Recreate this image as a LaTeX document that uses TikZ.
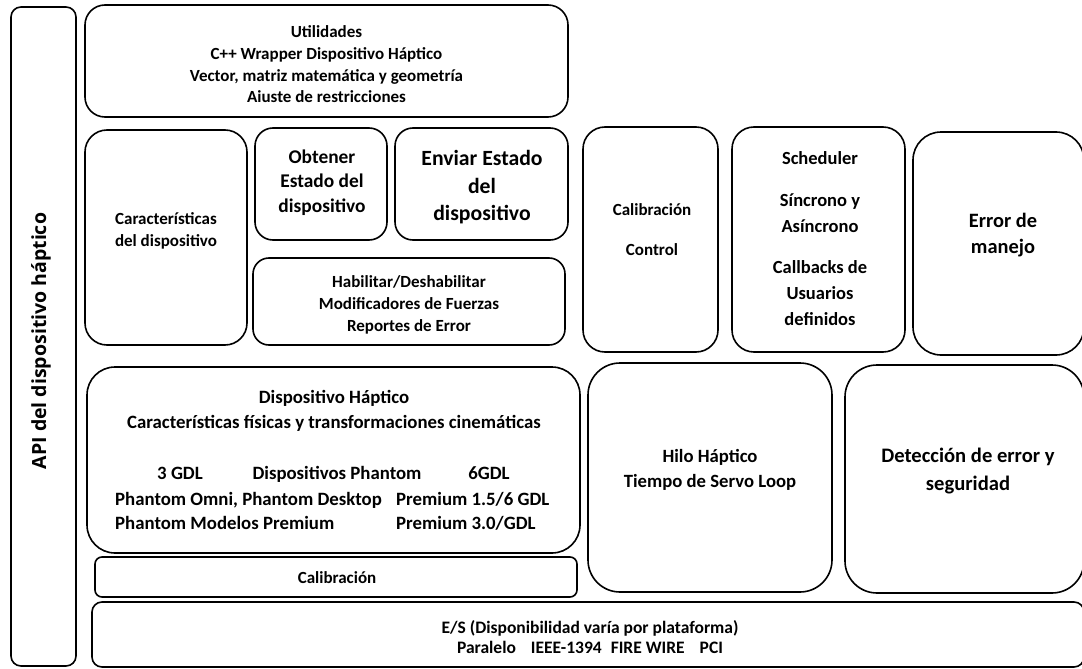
\documentclass[tikz,border=0pt]{standalone}
\usepackage{fontspec}
\setmainfont{Carlito}
\newfontfamily\apifont{Open Sans}
\begin{document}
\begin{tikzpicture}[x=1pt,y=-1pt,
  blk/.style={draw=black, line width=1.6pt, rounded corners=#1, inner sep=0pt, fill=white},
  txt/.style 2 args={align=center, inner sep=0pt, font=\bfseries\fontsize{#1}{#2}\selectfont},
]
\fill[white] (0,0) rectangle (1082,669);
\useasboundingbox (0,0) rectangle (1082,669);

% frames of the layers
\node[blk=10pt, minimum width=65pt, minimum height=659pt] (api) at (43.5,336.5) {};
\node[blk=20pt, minimum width=483pt, minimum height=112pt] (util) at (326.5,61) {};
\node[blk=22pt, minimum width=162pt, minimum height=215pt] (car) at (166,237.5) {};
\node[blk=18pt, minimum width=132pt, minimum height=112pt] (obt) at (321,184) {};
\node[blk=18pt, minimum width=173pt, minimum height=112pt] (env) at (481.5,184) {};
\node[blk=16pt, minimum width=312pt, minimum height=87pt] (hab) at (409,301.5) {};
\node[blk=22pt, minimum width=135pt, minimum height=225pt] (calc) at (650.5,239.5) {};
\node[blk=22pt, minimum width=173pt, minimum height=225pt] (sch) at (818.5,239.5) {};
\node[blk=28pt, minimum width=171pt, minimum height=223pt] (err) at (998.5,243.5) {};
\node[blk=28pt, minimum width=493pt, minimum height=186pt] (disp) at (333.5,460) {};
\node[blk=7pt, minimum width=482pt, minimum height=40pt] (cal) at (336,577) {};
\node[blk=32pt, minimum width=244pt, minimum height=229pt] (hilo) at (710,477.5) {};
\node[blk=32pt, minimum width=239pt, minimum height=228pt] (det) at (964.5,479) {};
\node[blk=10pt, minimum width=992pt, minimum height=65pt] (es) at (588,634.5) {};

% labels
\node[rotate=90, inner sep=0pt, font=\apifont\bfseries\fontsize{19.5}{19.5}\selectfont] (apit) at (41,341) {API del dispositivo háptico};

\node[txt={17}{21.7}] (utilt) at (326.5,64.5) {Utilidades\\C++ Wrapper Dispositivo Háptico\\Vector, matriz matemática y geometría\\Aiuste de restricciones};

\node[txt={17}{22}] (cart) at (166,231) {Características\\del dispositivo};

\node[txt={19.4}{24.5}] (obtt) at (322,182.5) {Obtener\\Estado del\\dispositivo};

\node[txt={21.7}{27.5}] (envt) at (482,187.5) {Enviar Estado\\del\\dispositivo};

\node[txt={17}{22}] (habt) at (409,305) {Habilitar/Deshabilitar\\Modificadores de Fuerzas\\Reportes de Error};

\node[txt={17}{40}] (calct) at (652,230) {Calibración\\Control};

\node[txt={18.5}{26}] (scht) at (820,239) {Scheduler\\[16pt]Síncrono y\\Asíncrono\\[15pt]Callbacks de\\Usuarios\\definidos};

\node[txt={20.4}{26}] (errt) at (1003,235) {Error de\\manejo};

\node[txt={18.8}{25}] (dispt) at (334,410.5) {Dispositivo Háptico\\Características físicas y transformaciones cinemáticas};

\node[txt={18.8}{18.8}, anchor=base] (g3) at (180,479) {3 GDL};
\node[txt={18.8}{18.8}, anchor=base] (gph) at (337,479) {Dispositivos Phantom};
\node[txt={18.8}{18.8}, anchor=base] (g6) at (489,479) {6GDL};
\node[txt={18.8}{18.8}, anchor=base west] (pom) at (115,505) {Phantom Omni, Phantom Desktop};
\node[txt={18.8}{18.8}, anchor=base west] (p15) at (396,505) {Premium 1.5/6 GDL};
\node[txt={18.8}{18.8}, anchor=base west] (pmp) at (115,529) {Phantom Modelos Premium};
\node[txt={18.8}{18.8}, anchor=base west] (p30) at (396,529) {Premium 3.0/GDL};

\node[txt={17}{17}] (calt) at (337,578) {Calibración};

\node[txt={18.7}{25}] (hilot) at (710,469.5) {Hilo Háptico\\Tiempo de Servo Loop};

\node[txt={20.6}{28}] (dett) at (968,471) {Detección de error y\\seguridad};

\node[txt={17.5}{20}] (est) at (590,637) {E/S (Disponibilidad varía por plataforma)\\Paralelo\hspace{15pt}IEEE-1394\hspace{9pt}FIRE WIRE\hspace{15pt}PCI};
\end{tikzpicture}
\end{document}
